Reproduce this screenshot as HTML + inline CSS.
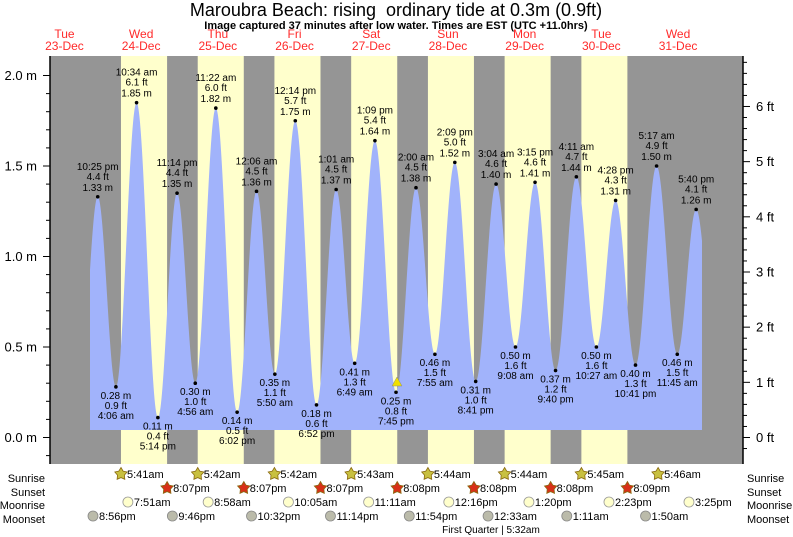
<!DOCTYPE html>
<html><head><meta charset="utf-8"><style>
html,body{margin:0;padding:0;background:#fff;}
svg{display:block;font-family:"Liberation Sans",Arial,sans-serif;}
</style></head><body>
<svg id="s" width="793" height="537" xmlns="http://www.w3.org/2000/svg">
<text x="396" y="16" font-size="18" text-anchor="middle" fill="#000" style="white-space:pre">Maroubra Beach: rising&#160; ordinary tide at 0.3m (0.9ft)</text>
<text x="396" y="29" font-size="11" font-weight="bold" text-anchor="middle" fill="#000">Image captured 37 minutes after low water. Times are EST (UTC +11.0hrs)</text>
<rect x="50" y="56" width="693" height="408" fill="#959595"/>
<g id="bands" fill="#ffffcc"></g>
<path id="tide" fill="#a1b3fb"/>
<g id="lbl" font-size="10" text-anchor="middle" fill="#000"></g>
<polygon points="397,377 392,386 402,386" fill="#f0e000" stroke="#888" stroke-width="0.5"/>
<line x1="50" y1="56" x2="50" y2="464" stroke="#000" stroke-width="1.5"/>
<line x1="743" y1="56" x2="743" y2="464" stroke="#000" stroke-width="1.5"/>
<g id="axes" font-size="13" fill="#000"></g>
<g id="days" font-size="12" fill="#ff2a2a" text-anchor="middle"></g>
<g id="bot" font-size="11" fill="#000"></g>
</svg>
<script>
var NS="http://www.w3.org/2000/svg";
function el(p,t,a,txt){var e=document.createElementNS(NS,t);for(var k in a)e.setAttribute(k,a[k]);if(txt!==undefined)e.textContent=txt;document.getElementById(p).appendChild(e);return e;}
var X0=102.8,D=76.7;
function X(d,h,m){return X0+(d+(h+(m||0)/60)/24)*D;}
function Y(v){return 437.5-181*v;}
var sr=[[0,5,41],[1,5,42],[2,5,42],[3,5,43],[4,5,44],[5,5,44],[6,5,45]];
var ss=[[0,20,7],[1,20,7],[2,20,7],[3,20,8],[4,20,8],[5,20,8],[6,20,9]];
for(var i=0;i<7;i++){var a=X(sr[i][0],sr[i][1],sr[i][2]),b=X(ss[i][0],ss[i][1],ss[i][2]);el("bands","rect",{x:a,y:56,width:b-a,height:408});}
var E=[[-1,22,25,1.33,"10:25 pm"],[0,4,6,.28,"4:06 am"],[0,10,34,1.85,"10:34 am"],[0,17,14,.11,"5:14 pm"],[0,23,14,1.35,"11:14 pm"],
[1,4,56,.30,"4:56 am"],[1,11,22,1.82,"11:22 am"],[1,18,2,.14,"6:02 pm"],[2,0,6,1.36,"12:06 am"],[2,5,50,.35,"5:50 am"],[2,12,14,1.75,"12:14 pm"],[2,18,52,.18,"6:52 pm"],
[3,1,1,1.37,"1:01 am"],[3,6,49,.41,"6:49 am"],[3,13,9,1.64,"1:09 pm"],[3,19,45,.25,"7:45 pm"],[4,2,0,1.38,"2:00 am"],[4,7,55,.46,"7:55 am"],[4,14,9,1.52,"2:09 pm"],[4,20,41,.31,"8:41 pm"],
[5,3,4,1.40,"3:04 am"],[5,9,8,.50,"9:08 am"],[5,15,15,1.41,"3:15 pm"],[5,21,40,.37,"9:40 pm"],[6,4,11,1.44,"4:11 am"],[6,10,27,.50,"10:27 am"],[6,16,28,1.31,"4:28 pm"],[6,22,41,.40,"10:41 pm"],
[7,5,17,1.50,"5:17 am"],[7,11,45,.46,"11:45 am"],[7,17,40,1.26,"5:40 pm"]];
var P=E.map(function(e){return [X(e[0],e[1],e[2]),e[3]];});
var pre=[2*P[0][0]-P[1][0],P[1][1]],post=[2*P[P.length-1][0]-P[P.length-2][0],P[P.length-2][1]];
var Q=[pre].concat(P).concat([post]);
function val(x){for(var i=0;i<Q.length-1;i++){if(x>=Q[i][0]&&x<=Q[i+1][0]){var t=(x-Q[i][0])/(Q[i+1][0]-Q[i][0]);return Q[i][1]+(Q[i+1][1]-Q[i][1])*(1-Math.cos(Math.PI*t))/2;}}return 0;}
var base=430,d="M90,"+base;
for(var x=90;x<=702;x+=0.5){d+=" L"+x+","+Y(val(x)).toFixed(1);}
d+=" L702,"+base+" Z";
document.getElementById("tide").setAttribute("d",d);
E.forEach(function(e,i){var x=P[i][0],y=Y(e[3]),ft=(e[3]/0.3048).toFixed(1)+" ft",m=e[3].toFixed(2)+" m";
el("lbl","circle",{cx:x,cy:y,r:1.8});
if(e[3]>1){el("lbl","text",{x:x,y:y-27},e[4]);el("lbl","text",{x:x,y:y-17},ft);el("lbl","text",{x:x,y:y-6},m);}
else{el("lbl","text",{x:x,y:y+12},m);el("lbl","text",{x:x,y:y+22},ft);el("lbl","text",{x:x,y:y+32},e[4]);}});
for(var k=-1;k<=20;k++){var v=k/10,y=Y(v);if(y<56||y>464)continue;var big=k%5==0;el("axes","line",{x1:big?43:46,y1:y,x2:50,y2:y,stroke:"#000","stroke-width":1});
if(big)el("axes","text",{x:37,y:y+4.5,"text-anchor":"end"},v.toFixed(1)+" m");}
for(var k=-1;k<=68;k++){var y=437.5-55.17*k/5;if(y<56||y>464)continue;var big=k%5==0;el("axes","line",{x1:743,y1:y,x2:big?750:747,y2:y,stroke:"#000","stroke-width":1});
if(big)el("axes","text",{x:756,y:y+4.5},(k/5)+" ft");}
var dn=[["Tue","23-Dec"],["Wed","24-Dec"],["Thu","25-Dec"],["Fri","26-Dec"],["Sat","27-Dec"],["Sun","28-Dec"],["Mon","29-Dec"],["Tue","30-Dec"],["Wed","31-Dec"]];
dn.forEach(function(n,i){var x=X(i-1,12);el("days","text",{x:x,y:38},n[0]);el("days","text",{x:x,y:50},n[1]);});
var rows=[["Sunrise",478],["Sunset",492],["Moonrise",505],["Moonset",519]];
rows.forEach(function(r){el("bot","text",{x:45,y:r[1]+4,"text-anchor":"end","font-size":11},r[0]);el("bot","text",{x:747,y:r[1]+4,"font-size":11},r[0]);});
function star(cx,cy,fill){var p=[];for(var j=0;j<10;j++){var a=-Math.PI/2+j*Math.PI/5,r=j%2?3.6:6.5;p.push((cx+r*Math.cos(a)).toFixed(1)+","+(cy+r*Math.sin(a)).toFixed(1));}
el("bot","polygon",{points:p.join(" "),fill:fill,stroke:"#8a6a10","stroke-width":0.8});}
var srt=["5:41am","5:42am","5:42am","5:43am","5:44am","5:44am","5:45am","5:46am"],srm=[41,42,42,43,44,44,45,46];
srt.forEach(function(t,i){var x=X(i,5,srm[i]);star(x,474,"#c8c040");el("bot","text",{x:x+6,y:478},t);});
var sst=["8:07pm","8:07pm","8:07pm","8:08pm","8:08pm","8:08pm","8:09pm"],ssm=[7,7,7,8,8,8,9];
sst.forEach(function(t,i){var x=X(i,20,ssm[i]);star(x,488,"#d83018");el("bot","text",{x:x+6,y:492},t);});
var mr=[[0,7,51,"7:51am"],[1,8,58,"8:58am"],[2,10,5,"10:05am"],[3,11,11,"11:11am"],[4,12,16,"12:16pm"],[5,13,20,"1:20pm"],[6,14,23,"2:23pm"],[7,15,25,"3:25pm"]];
mr.forEach(function(m){var x=X(m[0],m[1],m[2]);el("bot","circle",{cx:x,cy:502,r:5,fill:"#ffffcc",stroke:"#999","stroke-width":0.8});el("bot","text",{x:x+6,y:506},m[3]);});
var ms=[[-1,20,56,"8:56pm"],[0,21,46,"9:46pm"],[1,22,32,"10:32pm"],[2,23,14,"11:14pm"],[3,23,54,"11:54pm"],[5,0,33,"12:33am"],[6,1,11,"1:11am"],[7,1,50,"1:50am"]];
ms.forEach(function(m){var x=X(m[0],m[1],m[2]);el("bot","circle",{cx:x,cy:516,r:5,fill:"#bbbbaa",stroke:"#888","stroke-width":0.8});el("bot","text",{x:x+6,y:520},m[3]);});
el("bot","text",{x:491,y:533,"text-anchor":"middle","font-size":10},"First Quarter | 5:32am");
</script>
</body></html>
